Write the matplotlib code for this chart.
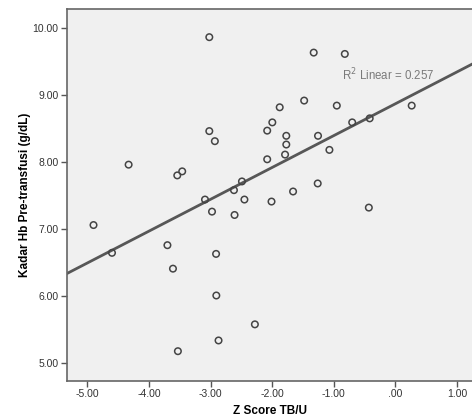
import matplotlib
matplotlib.use("Agg")
import matplotlib.pyplot as plt
import numpy as np
from matplotlib.ticker import FuncFormatter

plt.rcParams['font.family'] = ['Liberation Sans', 'DejaVu Sans']

z_score = [-3.02, -3.02, -2.93, -4.33, -3.54, -3.46, -3.09, -2.62,
           -1.325, -0.82, -1.48, -1.877, -0.95, 0.266, -1.997, -2.08,
           -1.77, -1.77, -1.79, -1.255, -0.70, -0.416, -1.07, -2.08,
           -2.49, -2.45, -2.01, -1.66, -1.26, -0.43, -4.90, -4.60,
           -3.70, -3.61, -2.976, -2.61, -2.91, -2.906, -2.87, -3.53, -2.28]
hb = [9.86, 8.46, 8.31, 7.96, 7.80, 7.86, 7.44, 7.58,
      9.63, 9.61, 8.915, 8.815, 8.84, 8.84, 8.59, 8.467,
      8.39, 8.26, 8.11, 8.39, 8.59, 8.65, 8.18, 8.04,
      7.71, 7.44, 7.41, 7.56, 7.68, 7.32, 7.06, 6.646,
      6.76, 6.41, 7.26, 7.21, 6.63, 6.01, 5.34, 5.18, 5.58]
x_ticks = [-5.0, -4.0, -3.0, -2.0, -1.0, 0.0, 1.0]
y_ticks = [5.0, 6.0, 7.0, 8.0, 9.0, 10.0]
r2_label = "R$^2$ Linear = 0.257"

x = np.array(z_score)
y = np.array(hb)

fig = plt.figure(figsize=(4.72, 4.2), dpi=100)
ax = fig.add_axes([0.142, 0.0929, 0.858, 0.8857])
ax.set_facecolor('#F0F0F0')

xmin, xmax = -5.33, 1.245
ax.set_xlim(xmin, xmax)
ax.set_ylim(4.736, 10.28)

slope, intercept = np.polyfit(x, y, 1)
xl = np.array([xmin, xmax])
ax.plot(xl, intercept + slope * xl, color='#575757', lw=2.0, zorder=2)

ax.scatter(x, y, s=22, facecolors='none', edgecolors='#444444', linewidths=1.1, zorder=3)

ax.text(0.906, 0.823, r2_label, transform=ax.transAxes, ha='right', va='center',
        fontsize=8.3, color='#7a7a7a')

ax.set_xticks(x_ticks)
ax.set_yticks(y_ticks)

def xfmt(v, pos):
    s = f"{v:.2f}"
    if s.startswith("0."):
        s = s[1:]
    if s == "-0.00":
        s = ".00"
    return s

ax.xaxis.set_major_formatter(FuncFormatter(xfmt))
ax.yaxis.set_major_formatter(FuncFormatter(lambda v, p: f"{v:.2f}"))
ax.tick_params(axis='both', direction='out', length=4, width=1, color='#555555',
               labelsize=7.5, labelcolor='#333333', pad=2)

for side in ['left', 'bottom', 'top']:
    ax.spines[side].set_color('#666666')
    ax.spines[side].set_linewidth(1.2)
ax.spines['right'].set_visible(False)

ax.set_xlabel("Z Score TB/U", fontsize=8.5, fontweight='bold', labelpad=4)
ax.set_ylabel("Kadar Hb Pre-transfusi (g/dL)", fontsize=8.5, fontweight='bold', labelpad=1)

fig.savefig("out.png", dpi=100, facecolor='white')
